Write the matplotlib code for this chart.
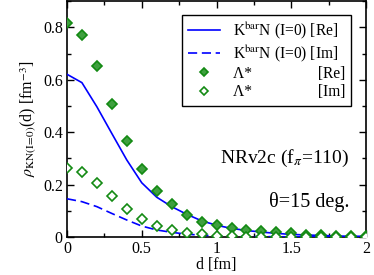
import numpy as np
import matplotlib
matplotlib.use('Agg')
import matplotlib.pyplot as plt
from matplotlib.ticker import MultipleLocator

plt.rcParams['font.family'] = ['Liberation Serif', 'DejaVu Serif']
plt.rcParams['mathtext.fontset'] = 'stix'

# distance grid of the Lambda* points and the K-bar N curves
d = [0.0, 0.1, 0.2, 0.3, 0.4, 0.5, 0.6, 0.7, 0.8, 0.9, 1.0,
     1.1, 1.2, 1.3, 1.4, 1.5, 1.6, 1.7, 1.8, 1.9, 2.0]

kbar_re = [0.621, 0.589, 0.497, 0.395, 0.294, 0.207, 0.152, 0.116, 0.087, 0.062, 0.045,
           0.033, 0.025, 0.019, 0.014, 0.010, 0.008, 0.006, 0.004, 0.003, 0.003]
kbar_im = [0.146, 0.135, 0.116, 0.090, 0.065, 0.042, 0.027, 0.018, 0.011, 0.007, 0.005,
           0.003, 0.002, 0.002, 0.001, 0.001, 0.001, 0.001, 0.000, 0.000, 0.000]
lam_re = [0.816, 0.771, 0.654, 0.506, 0.368, 0.258, 0.177, 0.125, 0.086, 0.058, 0.046,
          0.033, 0.027, 0.023, 0.019, 0.014, 0.009, 0.006, 0.004, 0.003, 0.003]
lam_im = [0.264, 0.247, 0.206, 0.155, 0.106, 0.069, 0.042, 0.025, 0.014, 0.010, 0.005,
          0.003, 0.002, 0.001, 0.001, 0.001, 0.000, 0.000, 0.000, 0.000, 0.000]

fig = plt.figure(figsize=(3.74, 2.75), dpi=100)
ax = fig.add_axes([0.179, 0.138, 0.800, 0.858])

blue = '#0000ff'
g_edge = '#138a13'
g_face = '#3fa03f'

ax.plot(d, kbar_re, color=blue, lw=1.2, label=r'K$^{\rm bar}$N (I=0) [Re]', zorder=3)
ax.plot(d, kbar_im, color=blue, lw=1.2, dashes=(5.5, 2.8), label=r'K$^{\rm bar}$N (I=0) [Im]', zorder=3)
ax.plot(d, lam_re, ls='none', marker='D', ms=5.2, mfc=g_face, mec=g_edge, mew=1.2,
        label='Λ*                 [Re]', zorder=4)
ax.plot(d, lam_im, ls='none', marker='D', ms=5.2, mfc='white', mec=g_edge, mew=1.2,
        label='Λ*                 [Im]', zorder=4)

ax.set_xlim(0, 2)
ax.set_ylim(0, 0.9)
ax.xaxis.set_major_locator(MultipleLocator(0.5))
ax.xaxis.set_minor_locator(MultipleLocator(0.25))
ax.yaxis.set_major_locator(MultipleLocator(0.2))
ax.yaxis.set_minor_locator(MultipleLocator(0.1))
ax.xaxis.set_major_formatter(plt.FuncFormatter(lambda v, p: '%g' % v))
ax.yaxis.set_major_formatter(plt.FuncFormatter(lambda v, p: '%g' % round(v, 1)))
ax.tick_params(which='both', direction='in', top=True, right=True, width=1, labelsize=11.5, pad=3)
ax.tick_params(which='major', length=5)
ax.tick_params(which='minor', length=3)
for s in ax.spines.values():
    s.set_linewidth(1.2)

ax.set_xlabel('d [fm]', fontsize=11.5, labelpad=0)
ax.set_ylabel(r'$\rho_{\rm KN(I\!=\!0)}$(d) [fm$^{-3}$]', fontsize=11.5, labelpad=3)

ax.text(0.945, 0.335, r'NRv2c (f$_\pi$=110)', transform=ax.transAxes, ha='right', va='center', fontsize=14)
ax.text(0.945, 0.148, 'θ=15 deg.', transform=ax.transAxes, ha='right', va='center', fontsize=14.5)

leg = ax.legend(loc='upper right', bbox_to_anchor=(0.948, 0.942), fontsize=11.2, frameon=True,
                fancybox=False, edgecolor='black', framealpha=1, handlelength=2.1,
                borderpad=0.35, labelspacing=0.15, handletextpad=0.8, borderaxespad=0,
                markerscale=0.8)
leg.get_frame().set_linewidth(1.0)

fig.savefig('out.png', dpi=100)
